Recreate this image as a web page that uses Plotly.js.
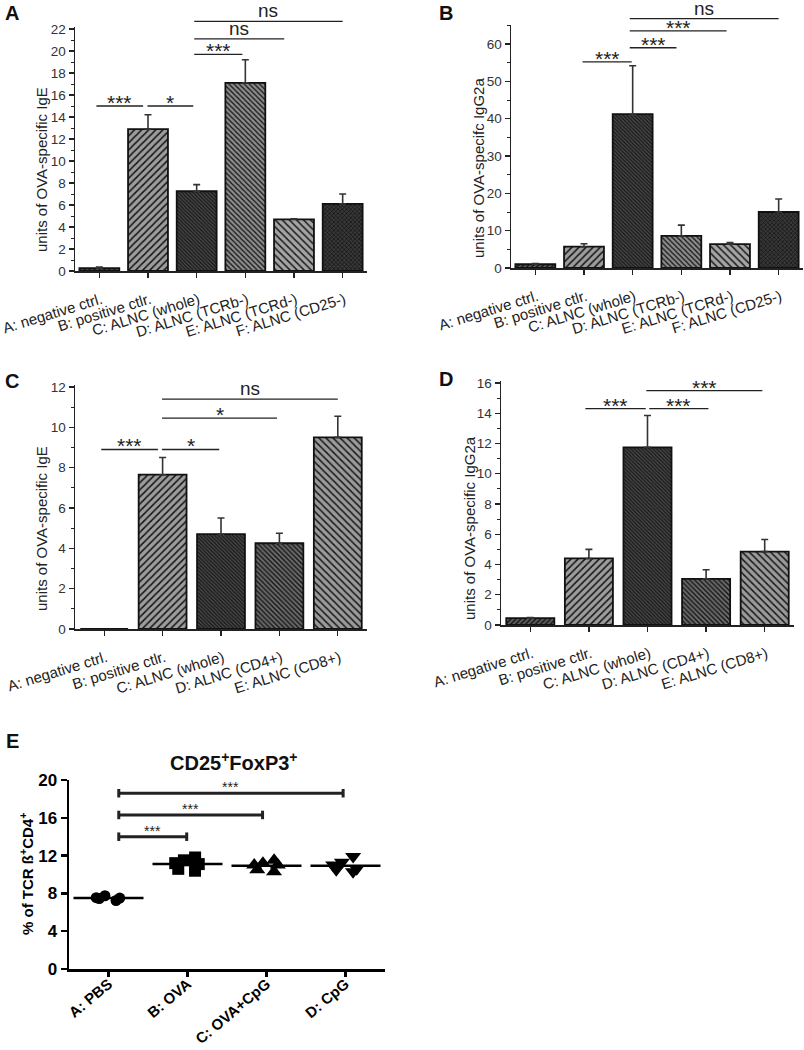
<!DOCTYPE html>
<html>
<head>
<meta charset="utf-8">
<script src="https://cdn.plot.ly/plotly-3.0.1.min.js"></script>
<style>
  body { margin: 0; background: #fff; }
  #chart { width: 804px; height: 1050px; }
</style>
</head>
<body>
<div id="chart"></div>
<script>
// ---- data ----
const catsAB = ['A: negative ctrl.', 'B: positive ctlr.', 'C: ALNC (whole)', 'D: ALNC (TCRb-)', 'E: ALNC (TCRd-)', 'F: ALNC (CD25-)'];
const igeA = [0.25, 12.9, 7.25, 17.1, 4.7, 6.1];
const igeAErr = [0.1, 1.3, 0.6, 2.1, 0.05, 0.9];
const igg2aB = [1.0, 5.7, 41.2, 8.6, 6.4, 15.0];
const igg2aBErr = [0.2, 0.8, 13.0, 2.9, 0.4, 3.5];

const catsCD = ['A: negative ctrl.', 'B: positive ctlr.', 'C: ALNC (whole)', 'D: ALNC (CD4+)', 'E: ALNC (CD8+)'];
const igeC = [0, 7.65, 4.7, 4.25, 9.5];
const igeCErr = [0, 0.85, 0.8, 0.5, 1.05];
const igg2aD = [0.45, 4.4, 11.75, 3.05, 4.85];
const igg2aDErr = [0.05, 0.6, 2.1, 0.6, 0.8];

const catsE = ['A: PBS', 'B: OVA', 'C: OVA+CpG', 'D: CpG'];
const pbs = [7.45, 7.25, 7.55, 7.75, 7.5];
const ova = [11.1, 11.8, 11.5, 10.4, 10.6, 11.2];
const ovaCpg = [11.0, 10.5, 11.2, 10.3, 11.0, 11.5];
const cpg = [11.0, 11.9, 10.3, 11.3, 10.6, 10.5];

// ---- bar fill styles (hatching) ----
const hatch = {
    neg:   { shape: '/',  fg: '#111111', bg: '#5e5e5e', size: 3.5, sol: 0.4 },
    pos:   { shape: '/',  fg: '#151515', bg: '#9c9c9c', size: 5, sol: 0.3 },
    whole: { shape: '\\', fg: '#151515', bg: '#4a4a4a', size: 2.6, sol: 0.45 },
    tcrb:  { shape: '\\', fg: '#151515', bg: '#8c8c8c', size: 3.6, sol: 0.35 },
    tcrd:  { shape: '\\', fg: '#1e1e1e', bg: '#a4a4a4', size: 5, sol: 0.3 },
    cd25:  { shape: 'x',  fg: '#0a0a0a', bg: '#383838', size: 3, sol: 0.35 },
    cd4:   { shape: '\\', fg: '#121212', bg: '#6c6c6c', size: 3.4, sol: 0.4 },
    cd8:   { shape: '\\', fg: '#1a1a1a', bg: '#9a9a9a', size: 5, sol: 0.3 }
};
const stylesAB = ['neg', 'pos', 'whole', 'tcrb', 'tcrd', 'cd25'];
const stylesCD = ['neg', 'pos', 'whole', 'cd4', 'cd8'];

const W = 804, H = 1050;
const FONT = 'Liberation Sans, Arial, sans-serif';
const INK = '#222';

// pixel helpers for laying out the panels
function xDom(left, right) { return [left / W, right / W]; }
function yDom(zeroPx, unitPx, top) { return [1 - zeroPx / H, 1 - (zeroPx - unitPx * top) / H]; }

// one trace per bar so every bar gets its own hatch colours
function barTraces(cats, vals, errs, styles, n) {
    return cats.map((c, i) => {
        const s = hatch[styles[i]];
        return {
            type: 'bar', x: [c], y: [vals[i]],
            xaxis: 'x' + n, yaxis: 'y' + n,
            width: 0.82,
            marker: {
                color: s.bg,
                line: { color: '#111', width: 1.8 },
                pattern: { fillmode: 'overlay', shape: s.shape, fgcolor: s.fg, fgopacity: 1, size: s.size, solidity: s.sol }
            },
            error_y: {
                type: 'data', symmetric: false, array: [errs[i]], arrayminus: [0],
                visible: vals[i] > 0,
                color: '#333', thickness: 1.6, width: 3.5
            },
            hoverinfo: 'skip', showlegend: false
        };
    });
}

function catAxis(dom, anchor, cats) {
    return {
        domain: dom, anchor: anchor, type: 'category',
        categoryorder: 'array', categoryarray: cats,
        range: [-0.5, cats.length - 0.5],
        showline: true, linecolor: INK, linewidth: 1.5,
        ticks: 'outside', ticklen: 5, tickwidth: 1.2, tickcolor: INK,
        tickangle: -17, ticklabelstandoff: 8, ticklabelshift: 2,
        showgrid: false, zeroline: false,
        tickfont: { family: FONT, size: 15, color: INK }
    };
}

function valAxis(dom, anchor, top, dtick, minor) {
    return {
        domain: dom, anchor: anchor, range: [0, top],
        tickmode: 'linear', tick0: 0, dtick: dtick,
        showline: true, linecolor: INK, linewidth: 1.5,
        ticks: 'outside', ticklen: 5, tickwidth: 1.2, tickcolor: INK,
        minor: { ticks: 'outside', ticklen: 3, dtick: minor, tick0: 0, tickcolor: INK, tickwidth: 1 },
        showgrid: false, zeroline: false,
        tickfont: { family: FONT, size: 13.5, color: '#333' }
    };
}

// significance brackets: [from, to, level, label]
const bracketsA = [[-0.06, 0.9, 15.0, '***'], [0.99, 1.93, 15.0, '*'], [1.95, 2.94, 19.7, '***'], [1.95, 3.8, 21.1, 'ns'], [1.95, 5.0, 22.7, 'ns']];
const bracketsB = [[0.97, 1.98, 55.2, '***'], [1.94, 2.9, 59.0, '***'], [1.94, 3.93, 63.5, '***'], [1.94, 5.0, 66.8, 'ns']];
const bracketsC = [[-0.05, 0.92, 8.9, '***'], [0.99, 1.97, 8.9, '*'], [0.99, 2.96, 10.45, '*'], [0.99, 4.0, 11.4, 'ns']];
const bracketsD = [[0.94, 1.97, 14.3, '***'], [2.03, 3.04, 14.3, '***'], [1.98, 3.96, 15.5, '***']];
const bracketsE = [[0.13, 0.99, 14.0, '***'], [0.13, 1.95, 16.3, '***'], [0.13, 2.97, 18.6, '***']];

const shapes = [];
const annotations = [];

function addBrackets(list, n, top, lineW, labelSize, caps) {
    list.forEach(([a, b, lvl, lab]) => {
        const yv = lvl / top;
        shapes.push({ type: 'line', xref: 'x' + n, yref: 'y' + n + ' domain', x0: a, x1: b, y0: yv, y1: yv,
            line: { color: '#222', width: lineW } });
        if (caps) {
            [a, b].forEach(xx => shapes.push({ type: 'line', xref: 'x' + n, yref: 'y' + n + ' domain',
                x0: xx, x1: xx, y0: (lvl - 0.45) / top, y1: (lvl + 0.45) / top,
                line: { color: '#222', width: lineW } }));
        }
        const isStar = lab.indexOf('*') >= 0;
        annotations.push({ xref: 'x' + n, yref: 'y' + n + ' domain', x: (a + b) / 2, y: yv,
            text: lab, showarrow: false, yanchor: 'bottom', yshift: isStar ? (caps ? -4 : -10) : -2,
            font: { family: FONT, size: isStar ? labelSize : 19, color: '#222' } });
    });
}

const topA = 22.2, topB = 65, topC = 12.1, topD = 16.1, topE = 20;
addBrackets(bracketsA, '', topA, 1.3, 21, false);
addBrackets(bracketsB, 2, topB, 1.3, 21, false);
addBrackets(bracketsC, 3, topC, 1.3, 21, false);
addBrackets(bracketsD, 4, topD, 1.3, 21, false);
addBrackets(bracketsE, 5, topE, 3, 14, true);

// panel letters
[['A', 12, 13], ['B', 446, 13], ['C', 12, 381], ['D', 446, 379], ['E', 12, 741]].forEach(([t, px, py]) => {
    annotations.push({ xref: 'paper', yref: 'paper', x: px / W, y: 1 - py / H, text: '<b>' + t + '</b>',
        showarrow: false, xanchor: 'center', yanchor: 'middle', font: { family: FONT, size: 20, color: '#111' } });
});
annotations.push({ xref: 'paper', yref: 'paper', x: 234 / W, y: 1 - 761 / H,
    text: '<b>CD25<sup>+</sup>FoxP3<sup>+</sup></b>', showarrow: false,
    xanchor: 'center', yanchor: 'middle', font: { family: FONT, size: 20, color: '#111' } });

// y-axis titles, placed as rotated annotations next to each axis
[
    ['units of OVA-specific IgE', 42, 170, false],
    ['units of OVA-specifc IgG2a', 478, 168, false],
    ['units of OVA-specific IgE', 41, 529, false],
    ['units of OVA-specific IgG2a', 469, 528, false],
    ['% of TCR ß<sup>+</sup>CD4<sup>+</sup>', 26, 874, true]
].forEach(([t, px, py, bold]) => {
    annotations.push({ xref: 'paper', yref: 'paper', x: px / W, y: 1 - py / H, text: t, textangle: -90,
        showarrow: false, xanchor: 'center', yanchor: 'middle',
        font: { family: FONT, size: 15, color: bold ? '#000' : INK, weight: bold ? 'bold' : 'normal' } });
});

// panel E: scatter points (jittered by box traces) and mean lines
function dotTrace(cat, vals, symbol, size) {
    return {
        type: 'box', x: vals.map(() => cat), y: vals, xaxis: 'x5', yaxis: 'y5',
        boxpoints: 'all', jitter: 0.75, pointpos: 0,
        fillcolor: 'rgba(0,0,0,0)', line: { width: 0, color: 'rgba(0,0,0,0)' },
        marker: { symbol: symbol, size: size, color: '#000' },
        hoverinfo: 'skip', showlegend: false
    };
}
const mean = arr => arr.reduce((s, v) => s + v, 0) / arr.length;
const meanTrace = {
    type: 'scatter', mode: 'markers', x: catsE, y: [pbs, ova, ovaCpg, cpg].map(mean),
    xaxis: 'x5', yaxis: 'y5',
    marker: { symbol: 'line-ew', size: 50, color: '#000', line: { color: '#000', width: 2.5 } },
    hoverinfo: 'skip', showlegend: false
};

const data = [].concat(
    barTraces(catsAB, igeA, igeAErr, stylesAB, ''),
    barTraces(catsAB, igg2aB, igg2aBErr, stylesAB, 2),
    barTraces(catsCD, igeC, igeCErr, stylesCD, 3),
    barTraces(catsCD, igg2aD, igg2aDErr, stylesCD, 4),
    [
        dotTrace(catsE[0], pbs, 'circle', 11),
        dotTrace(catsE[1], ova, 'square', 12),
        dotTrace(catsE[2], ovaCpg, 'triangle-up', 14),
        dotTrace(catsE[3], cpg, 'triangle-down', 14),
        meanTrace
    ]
);

const layout = {
    width: W, height: H,
    margin: { l: 0, r: 0, t: 0, b: 0 },
    paper_bgcolor: '#fff', plot_bgcolor: 'rgba(0,0,0,0)',
    showlegend: false, barmode: 'overlay', boxmode: 'overlay', boxgap: 0.3,
    font: { family: FONT, color: INK },

    xaxis: catAxis(xDom(75, 367), 'y', catsAB),
    yaxis: valAxis(yDom(271, 11.0, topA), 'x', topA, 2, 1),

    xaxis2: catAxis(xDom(511, 803), 'y2', catsAB),
    yaxis2: valAxis(yDom(268, 3.733, topB), 'x2', topB, 10, 5),

    xaxis3: catAxis(xDom(75, 367), 'y3', catsCD),
    yaxis3: valAxis(yDom(629, 20.17, topC), 'x3', topC, 2, 1),

    xaxis4: catAxis(xDom(501, 794), 'y4', catsCD),
    yaxis4: valAxis(yDom(625, 15.125, topD), 'x4', topD, 2, 1),

    xaxis5: {
        domain: xDom(69, 385), anchor: 'y5', type: 'category',
        categoryorder: 'array', categoryarray: catsE, range: [-0.5, 3.5],
        showline: true, linecolor: '#000', linewidth: 2.5,
        ticks: 'outside', ticklen: 5, tickwidth: 2.5, tickcolor: '#000',
        tickangle: -40, ticklabelstandoff: -7, showgrid: false, zeroline: false,
        tickfont: { family: FONT, size: 15, color: '#000', weight: 'bold' }
    },
    yaxis5: {
        domain: yDom(969, 9.45, topE), anchor: 'x5', range: [0, topE],
        tickmode: 'linear', tick0: 0, dtick: 4,
        showline: true, linecolor: '#000', linewidth: 2.5,
        ticks: 'outside', ticklen: 6, tickwidth: 2.5, tickcolor: '#000',
        showgrid: false, zeroline: false,
        tickfont: { family: FONT, size: 17, color: '#000', weight: 'bold' }
    },

    shapes: shapes,
    annotations: annotations
};

Plotly.newPlot('chart', data, layout, { displayModeBar: false, staticPlot: true });
</script>
</body>
</html>
